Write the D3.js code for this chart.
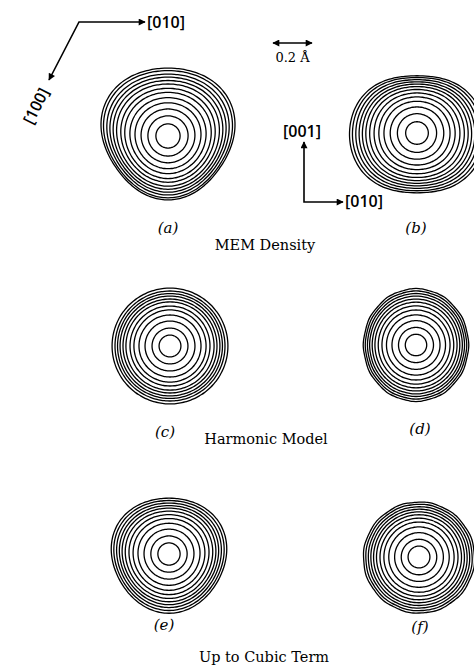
<!DOCTYPE html>
<html>
<head>
<meta charset="utf-8">
<script src="https://cdn.jsdelivr.net/npm/d3@7"></script>
<style>
  body { margin: 0; background: #fff; }
  svg { display: block; }
  .lbl { font-family: "Open Sans", sans-serif; font-weight: 600; font-size: 16px; }
  .cap { font-family: "DejaVu Serif", serif; font-size: 14.5px; }
  .sub { font-family: "DejaVu Serif", serif; font-style: italic; font-size: 15px; }
</style>
</head>
<body>
<div id="fig"></div>
<script>
// contour radii (in angstrom), innermost first
var ringsA = [0.062, 0.103, 0.138, 0.169, 0.195, 0.221, 0.241, 0.262, 0.279, 0.295, 0.310, 0.326, 0.338];
var ringsB = [0.058, 0.100, 0.136, 0.167, 0.192, 0.215, 0.236, 0.254, 0.270, 0.285, 0.300, 0.315, 0.328];
var ringsC = [0.056, 0.092, 0.128, 0.159, 0.185, 0.205, 0.226, 0.241, 0.256, 0.269, 0.282, 0.297];
var ringsD = [0.055, 0.090, 0.124, 0.153, 0.177, 0.197, 0.215, 0.230, 0.244, 0.256, 0.268, 0.279];
var ringsE = [0.057, 0.093, 0.128, 0.159, 0.184, 0.205, 0.224, 0.240, 0.254, 0.268, 0.282, 0.295];
var ringsF = [0.056, 0.091, 0.125, 0.155, 0.180, 0.200, 0.218, 0.233, 0.247, 0.260, 0.273, 0.285];

// angular shape terms [order, amplitude, phase deg] for the outer ring
var shapeA = [[1, -0.07, 90], [3, 0.04, 90]];
var shapeB = [[2, 0.07, 0], [4, -0.015, 0], [1, 0.02, 90]];
var shapeC = [];
var shapeD = [[2, -0.035, 0], [12, 0.005, 0]];
var shapeE = [[3, 0.03, 90]];
var shapeF = [[12, 0.005, 10], [1, 0.01, 90]];

var panelNames = ["(a)", "(b)", "(c)", "(d)", "(e)", "(f)"];
var rowTitles = ["MEM  Density", "Harmonic Model", "Up to Cubic Term"];
var scaleLen = 0.2; // angstrom

var W = 474, H = 672;
var svg = d3.select("#fig").append("svg").attr("width", W).attr("height", H);

// px per angstrom
var r = d3.scaleLinear().domain([0, scaleLen]).range([0, 39]);

var defs = svg.append("defs");
defs.append("marker").attr("id", "ah").attr("viewBox", "0 0 10 10")
  .attr("refX", 9).attr("refY", 5).attr("markerWidth", 9).attr("markerHeight", 7)
  .attr("orient", "auto-start-reverse").attr("markerUnits", "userSpaceOnUse")
  .append("path").attr("d", "M0,0L10,5L0,10z").attr("fill", "#000");

var panels = [
  { rings: ringsA, shape: shapeA, cx: 168, cy: 136, lx: 168, ly: 233 },
  { rings: ringsB, shape: shapeB, cx: 417, cy: 133, lx: 416, ly: 233 },
  { rings: ringsC, shape: shapeC, cx: 170, cy: 346, lx: 165, ly: 437 },
  { rings: ringsD, shape: shapeD, cx: 416, cy: 345, lx: 420, ly: 434 },
  { rings: ringsE, shape: shapeE, cx: 169, cy: 554, lx: 164, ly: 630 },
  { rings: ringsF, shape: shapeF, cx: 419, cy: 557, lx: 420, ly: 632 }
];

var angles = d3.range(0, 360, 3);
var line = d3.lineRadial().curve(d3.curveCardinalClosed);

panels.forEach(function (p, i) {
  var rmax = d3.max(p.rings);
  var g = svg.append("g").attr("transform", "translate(" + p.cx + "," + p.cy + ")");
  p.rings.forEach(function (r0) {
    var w = Math.pow(r0 / rmax, 2);
    var pts = angles.map(function (deg) {
      var t = deg * Math.PI / 180;
      var f = 1;
      p.shape.forEach(function (h) {
        // ripples only show on the outermost rings
        var hw = h[0] >= 8 ? Math.pow(r0 / rmax, 12) : w;
        f += hw * h[1] * Math.cos(h[0] * (t - h[2] * Math.PI / 180));
      });
      // lineRadial: angle 0 is up, clockwise; screen angle 0 is right
      return [t + Math.PI / 2, r(r0 * f)];
    });
    g.append("path").attr("d", line(pts))
      .attr("fill", "none").attr("stroke", "#000").attr("stroke-width", 1.3);
  });
  svg.append("text").attr("class", "sub").attr("x", p.lx).attr("y", p.ly)
    .attr("text-anchor", "middle").text(panelNames[i]);
});

// row titles
[[265, 250], [266, 444], [264, 662]].forEach(function (pos, i) {
  svg.append("text").attr("class", "cap").attr("x", pos[0]).attr("y", pos[1])
    .attr("text-anchor", "middle").text(rowTitles[i]);
});

// crystal axes, top-left
svg.append("path").attr("d", "M145,22L79,22L49,80")
  .attr("fill", "none").attr("stroke", "#000").attr("stroke-width", 1.6)
  .attr("marker-start", "url(#ah)").attr("marker-end", "url(#ah)");
svg.append("text").attr("class", "lbl").attr("x", 147).attr("y", 28).text("[010]");
svg.append("text").attr("class", "lbl").attr("text-anchor", "middle")
  .attr("transform", "translate(36,106) rotate(-63)").attr("dy", "0.35em").text("[100]");

// scale bar
var sx = 273;
svg.append("line").attr("x1", sx).attr("x2", sx + r(scaleLen)).attr("y1", 43).attr("y2", 43)
  .attr("stroke", "#000").attr("stroke-width", 1.6)
  .attr("marker-start", "url(#ah)").attr("marker-end", "url(#ah)");
svg.append("text").attr("class", "cap").attr("x", sx + r(scaleLen) / 2).attr("y", 62)
  .attr("text-anchor", "middle").style("font-size", "13px").text("0.2 \u00C5");

// crystal axes, right
svg.append("path").attr("d", "M304,142L304,202L343,202")
  .attr("fill", "none").attr("stroke", "#000").attr("stroke-width", 1.6)
  .attr("marker-start", "url(#ah)").attr("marker-end", "url(#ah)");
svg.append("text").attr("class", "lbl").attr("x", 302).attr("y", 137)
  .attr("text-anchor", "middle").text("[001]");
svg.append("text").attr("class", "lbl").attr("x", 345).attr("y", 207).text("[010]");
</script>
</body>
</html>
